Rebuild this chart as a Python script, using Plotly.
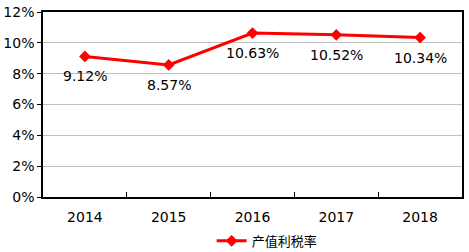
import plotly.graph_objects as go

years = ["2014", "2015", "2016", "2017", "2018"]
rates = [9.12, 8.57, 10.63, 10.52, 10.34]
labels = ["9.12%", "8.57%", "10.63%", "10.52%", "10.34%"]
series_name = "产值利税率"
ytick_vals = [0, 2, 4, 6, 8, 10, 12]
ytick_text = ["0%", "2%", "4%", "6%", "8%", "10%", "12%"]

fig = go.Figure()
fig.add_trace(go.Scatter(
    x=years, y=rates, mode="lines+markers", name=series_name,
    line=dict(color="#FF0000", width=3),
    marker=dict(symbol="diamond", size=9, color="#FF0000"),
))
for i, (y, t) in enumerate(zip(rates, labels)):
    fig.add_annotation(x=i, y=y, xref="x", yref="y", text=t, showarrow=False, yshift=-20,
                       font=dict(family="DejaVu Sans", size=14, color="#000"))

fig.update_layout(
    width=469, height=252,
    margin=dict(l=43, r=7, t=12, b=55, autoexpand=False),
    paper_bgcolor="white", plot_bgcolor="white",
    font=dict(family="DejaVu Sans", size=14, color="#000"),
    showlegend=True,
    legend=dict(orientation="h", x=0.535, xanchor="center", yref="container",
                y=0.044, yanchor="middle",
                font=dict(family="Noto Sans CJK SC, DejaVu Sans", size=13)),
)
fig.update_xaxes(
    type="category", showline=True, linecolor="black", linewidth=1.5, mirror=True,
    tickson="boundaries", ticks="inside", ticklen=5, tickcolor="black",
    showgrid=False, range=[-0.5, 4.5], ticklabelstandoff=6,
)
fig.update_yaxes(
    range=[0, 12], tickvals=ytick_vals, ticktext=ytick_text,
    showline=True, linecolor="black", linewidth=1.5, mirror=True,
    ticks="outside", ticklen=4, tickcolor="black",
    showgrid=True, gridcolor="#C0C0C0", gridwidth=1, zeroline=False,
)
fig.write_html("out.html")
